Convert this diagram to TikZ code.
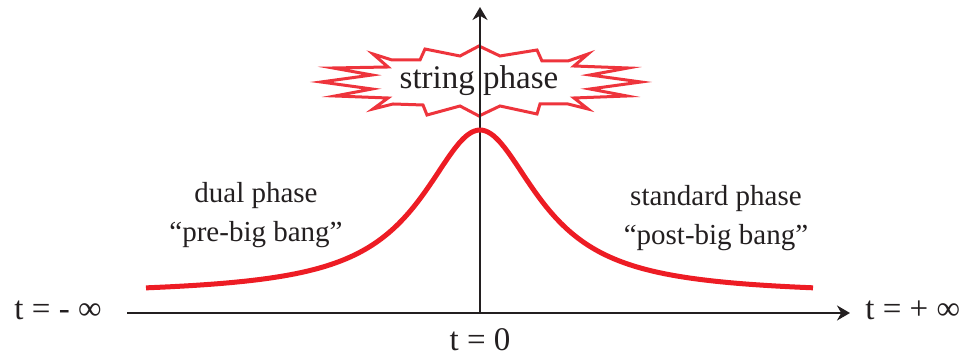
\documentclass[tikz,border=0pt]{standalone}
\usepackage{fontspec}
\setmainfont{Liberation Serif}
\usetikzlibrary{arrows.meta,positioning}
\definecolor{curvered}{RGB}{237,28,36}
\definecolor{burstred}{RGB}{238,52,60}
\definecolor{inkblack}{RGB}{35,31,32}

\begin{document}
\begin{tikzpicture}[
    x=0.5pt, y=-0.5pt,
    axisline/.style={draw=inkblack, line width=1pt, -{Stealth[length=6.5pt, width=7.5pt]}},
    axislabel/.style={text=inkblack, font=\fontsize{16.5}{19.5}\selectfont, inner sep=0pt},
    phaselabel/.style={text=inkblack, font=\fontsize{14.5}{19.5}\selectfont, align=center, inner sep=0pt},
    burstline/.style={draw=burstred, line width=1.5pt, miter limit=20, fill=white},
    bumpline/.style={draw=curvered, line width=2.5pt}
]

    \useasboundingbox (0,0) rectangle (971,356);

    % Axis end points
    \coordinate (origin) at (480,313);
    \coordinate (xleft) at (127,313);
    \coordinate (xright) at (850,313);
    \coordinate (ytop) at (480,7);

    % Star burst
    \draw [burstline] (479,46) -- (500,56) -- (537,50) -- (542,61) -- (568,61)
        -- (588,54) -- (574,66) -- (628,68) -- (590,75) -- (641,82)
        -- (590,89) -- (627,96) -- (574,98) -- (588,109) -- (568,104)
        -- (540,104) -- (537,114) -- (500,106) -- (479,116) -- (460,106)
        -- (427,115) -- (423,105) -- (393,104) -- (373,109) -- (388,98)
        -- (335,96) -- (372,89) -- (321,82) -- (372,75) -- (333,68)
        -- (388,67) -- (373,54) -- (392,60) -- (420,60) -- (425,49)
        -- (460,56) -- cycle;

    % Axes
    \draw [axisline] (xleft) -- (xright);
    \draw [axisline] (origin) -- (ytop);

    % Bump
    \draw [bumpline] plot[domain=-334:333, samples=120, smooth]
        ({480+\x}, {295-165/(1+(\x/71)^2)});

    % Labels
    \node [axislabel, anchor=base] (burst) at (479,89) {string phase};
    \node [axislabel, anchor=base] (tminus) at (58,320) {t = - ∞};
    \node [axislabel, anchor=base west] (tplus) at (865,320) {t = + ∞};
    \node [axislabel, below=7.5pt of origin] (tzero) {t = 0};
    \node [phaselabel] (dual) at (256,215) {dual phase\\“pre-big bang”};
    \node [phaselabel] (standard) at (716,218) {standard phase\\“post-big bang”};

\end{tikzpicture}
\end{document}
